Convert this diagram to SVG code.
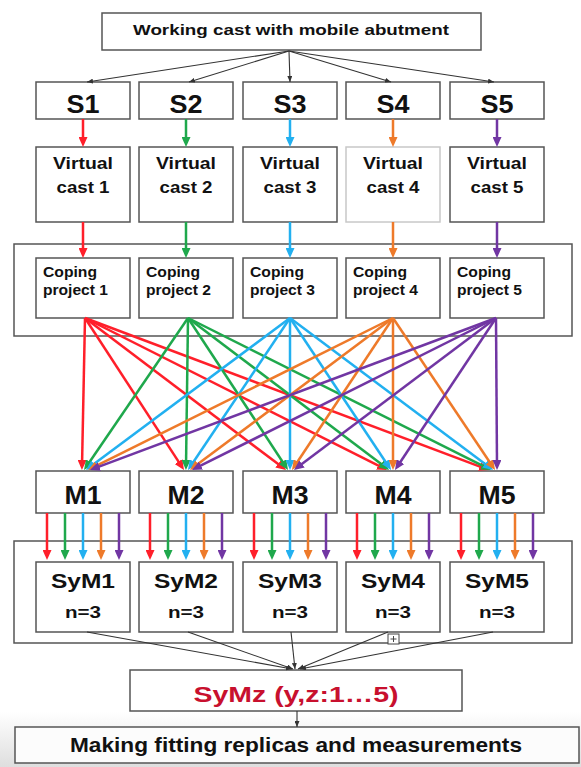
<svg xmlns="http://www.w3.org/2000/svg" width="581" height="767" viewBox="0 0 581 767">
<defs>
<linearGradient id="bg" x1="0" y1="0" x2="0" y2="1"><stop offset="0" stop-color="#ffffff"/><stop offset="1" stop-color="#dedede"/></linearGradient>
<marker id="mr" markerUnits="userSpaceOnUse" markerWidth="10" markerHeight="9" refX="6" refY="4.5" orient="auto"><path d="M0,0 L10,4.5 L0,9 Z" fill="#ff1f2a"/></marker>
<marker id="mg" markerUnits="userSpaceOnUse" markerWidth="10" markerHeight="9" refX="6" refY="4.5" orient="auto"><path d="M0,0 L10,4.5 L0,9 Z" fill="#1fa84c"/></marker>
<marker id="mb" markerUnits="userSpaceOnUse" markerWidth="10" markerHeight="9" refX="6" refY="4.5" orient="auto"><path d="M0,0 L10,4.5 L0,9 Z" fill="#22b0f0"/></marker>
<marker id="mo" markerUnits="userSpaceOnUse" markerWidth="10" markerHeight="9" refX="6" refY="4.5" orient="auto"><path d="M0,0 L10,4.5 L0,9 Z" fill="#ee7a2a"/></marker>
<marker id="mp" markerUnits="userSpaceOnUse" markerWidth="10" markerHeight="9" refX="6" refY="4.5" orient="auto"><path d="M0,0 L10,4.5 L0,9 Z" fill="#7136a3"/></marker>
<marker id="mk" markerUnits="userSpaceOnUse" markerWidth="6" markerHeight="5" refX="6" refY="2.5" orient="auto"><path d="M0,0 L6,2.5 L0,5 Z" fill="#333"/></marker>
</defs>
<style>
.box{fill:#fff;stroke:#555;stroke-width:1.5}
.cont{fill:none;stroke:#555;stroke-width:1.5}
.t{font-family:"Liberation Sans",Arial,sans-serif;font-weight:bold;fill:#111}
.c{text-anchor:middle}
.k{stroke:#333;stroke-width:1.1;fill:none;marker-end:url(#mk)}
.r{stroke:#ff1f2a;stroke-width:2.5;marker-end:url(#mr)}
.g{stroke:#1fa84c;stroke-width:2.5;marker-end:url(#mg)}
.b{stroke:#22b0f0;stroke-width:2.5;marker-end:url(#mb)}
.o{stroke:#ee7a2a;stroke-width:2.5;marker-end:url(#mo)}
.p{stroke:#7136a3;stroke-width:2.5;marker-end:url(#mp)}
</style>
<rect x="0" y="0" width="581" height="767" fill="#fff"/>
<rect x="0" y="712" width="581" height="55" fill="url(#bg)"/>

<g id="containers">
<rect class="cont" x="14" y="244" width="558" height="92"/>
<rect class="cont" x="14" y="541" width="558" height="102"/>
</g>

<g id="top"><rect class="box" x="102" y="13" width="379" height="37"/><text class="t c" x="291" y="34.5" font-size="15" textLength="316" lengthAdjust="spacingAndGlyphs">Working cast with mobile abutment</text></g>

<g id="S1"><rect class="box" x="36" y="82" width="94" height="37"/><text class="t c" x="83" y="113" font-size="25" textLength="33" lengthAdjust="spacingAndGlyphs">S1</text></g>
<g id="S2"><rect class="box" x="139" y="82" width="94" height="37"/><text class="t c" x="186" y="113" font-size="25" textLength="33" lengthAdjust="spacingAndGlyphs">S2</text></g>
<g id="S3"><rect class="box" x="243" y="82" width="94" height="37"/><text class="t c" x="290" y="113" font-size="25" textLength="33" lengthAdjust="spacingAndGlyphs">S3</text></g>
<g id="S4"><rect class="box" x="346" y="82" width="94" height="37"/><text class="t c" x="393" y="113" font-size="25" textLength="33" lengthAdjust="spacingAndGlyphs">S4</text></g>
<g id="S5"><rect class="box" x="450" y="82" width="94" height="37"/><text class="t c" x="497" y="113" font-size="25" textLength="33" lengthAdjust="spacingAndGlyphs">S5</text></g>

<g id="V1"><rect class="box" x="36" y="147" width="94" height="75"/><text class="t c" x="83" y="169" font-size="17" textLength="60" lengthAdjust="spacingAndGlyphs">Virtual</text><text class="t c" x="83" y="193" font-size="17" textLength="53" lengthAdjust="spacingAndGlyphs">cast 1</text></g>
<g id="V2"><rect class="box" x="139" y="147" width="94" height="75"/><text class="t c" x="186" y="169" font-size="17" textLength="60" lengthAdjust="spacingAndGlyphs">Virtual</text><text class="t c" x="186" y="193" font-size="17" textLength="53" lengthAdjust="spacingAndGlyphs">cast 2</text></g>
<g id="V3"><rect class="box" x="243" y="147" width="94" height="75"/><text class="t c" x="290" y="169" font-size="17" textLength="60" lengthAdjust="spacingAndGlyphs">Virtual</text><text class="t c" x="290" y="193" font-size="17" textLength="53" lengthAdjust="spacingAndGlyphs">cast 3</text></g>
<g id="V4"><rect x="346" y="147" width="94" height="75" fill="#fff" stroke="#c8c8c8" stroke-width="1.5"/><text class="t c" x="393" y="169" font-size="17" textLength="60" lengthAdjust="spacingAndGlyphs">Virtual</text><text class="t c" x="393" y="193" font-size="17" textLength="53" lengthAdjust="spacingAndGlyphs">cast 4</text></g>
<g id="V5"><rect class="box" x="450" y="147" width="94" height="75"/><text class="t c" x="497" y="169" font-size="17" textLength="60" lengthAdjust="spacingAndGlyphs">Virtual</text><text class="t c" x="497" y="193" font-size="17" textLength="53" lengthAdjust="spacingAndGlyphs">cast 5</text></g>

<g id="C1"><rect class="box" x="36" y="258" width="94" height="60"/><text class="t" x="43" y="277" font-size="15" textLength="54" lengthAdjust="spacingAndGlyphs">Coping</text><text class="t" x="43" y="295" font-size="15" textLength="65" lengthAdjust="spacingAndGlyphs">project 1</text></g>
<g id="C2"><rect class="box" x="139" y="258" width="94" height="60"/><text class="t" x="146" y="277" font-size="15" textLength="54" lengthAdjust="spacingAndGlyphs">Coping</text><text class="t" x="146" y="295" font-size="15" textLength="65" lengthAdjust="spacingAndGlyphs">project 2</text></g>
<g id="C3"><rect class="box" x="243" y="258" width="94" height="60"/><text class="t" x="250" y="277" font-size="15" textLength="54" lengthAdjust="spacingAndGlyphs">Coping</text><text class="t" x="250" y="295" font-size="15" textLength="65" lengthAdjust="spacingAndGlyphs">project 3</text></g>
<g id="C4"><rect class="box" x="346" y="258" width="94" height="60"/><text class="t" x="353" y="277" font-size="15" textLength="54" lengthAdjust="spacingAndGlyphs">Coping</text><text class="t" x="353" y="295" font-size="15" textLength="65" lengthAdjust="spacingAndGlyphs">project 4</text></g>
<g id="C5"><rect class="box" x="450" y="258" width="94" height="60"/><text class="t" x="457" y="277" font-size="15" textLength="54" lengthAdjust="spacingAndGlyphs">Coping</text><text class="t" x="457" y="295" font-size="15" textLength="65" lengthAdjust="spacingAndGlyphs">project 5</text></g>

<g id="M1"><rect class="box" x="36" y="471" width="94" height="42"/><text class="t c" x="83" y="504" font-size="25" textLength="37" lengthAdjust="spacingAndGlyphs">M1</text></g>
<g id="M2"><rect class="box" x="139" y="471" width="94" height="42"/><text class="t c" x="186" y="504" font-size="25" textLength="37" lengthAdjust="spacingAndGlyphs">M2</text></g>
<g id="M3"><rect class="box" x="243" y="471" width="94" height="42"/><text class="t c" x="290" y="504" font-size="25" textLength="37" lengthAdjust="spacingAndGlyphs">M3</text></g>
<g id="M4"><rect class="box" x="346" y="471" width="94" height="42"/><text class="t c" x="393" y="504" font-size="25" textLength="37" lengthAdjust="spacingAndGlyphs">M4</text></g>
<g id="M5"><rect class="box" x="450" y="471" width="94" height="42"/><text class="t c" x="497" y="504" font-size="25" textLength="37" lengthAdjust="spacingAndGlyphs">M5</text></g>

<g id="SyM1"><rect class="box" x="36" y="562" width="94" height="70"/><text class="t c" x="83" y="588" font-size="21" textLength="64" lengthAdjust="spacingAndGlyphs">SyM1</text><text class="t c" x="83" y="618" font-size="16" textLength="36" lengthAdjust="spacingAndGlyphs">n=3</text></g>
<g id="SyM2"><rect class="box" x="139" y="562" width="94" height="70"/><text class="t c" x="186" y="588" font-size="21" textLength="64" lengthAdjust="spacingAndGlyphs">SyM2</text><text class="t c" x="186" y="618" font-size="16" textLength="36" lengthAdjust="spacingAndGlyphs">n=3</text></g>
<g id="SyM3"><rect class="box" x="243" y="562" width="94" height="70"/><text class="t c" x="290" y="588" font-size="21" textLength="64" lengthAdjust="spacingAndGlyphs">SyM3</text><text class="t c" x="290" y="618" font-size="16" textLength="36" lengthAdjust="spacingAndGlyphs">n=3</text></g>
<g id="SyM4"><rect class="box" x="346" y="562" width="94" height="70"/><text class="t c" x="393" y="588" font-size="21" textLength="64" lengthAdjust="spacingAndGlyphs">SyM4</text><text class="t c" x="393" y="618" font-size="16" textLength="36" lengthAdjust="spacingAndGlyphs">n=3</text></g>
<g id="SyM5"><rect class="box" x="450" y="562" width="94" height="70"/><text class="t c" x="497" y="588" font-size="21" textLength="64" lengthAdjust="spacingAndGlyphs">SyM5</text><text class="t c" x="497" y="618" font-size="16" textLength="36" lengthAdjust="spacingAndGlyphs">n=3</text></g>

<g id="SyMz"><rect class="box" x="130" y="670" width="332" height="41"/><text class="t c" x="296" y="702" font-size="22" textLength="205" lengthAdjust="spacingAndGlyphs" style="fill:#c8102e">SyMz (y,z:1…5)</text></g>
<g id="final"><rect x="15" y="727" width="564" height="36" fill="#fcfcfc" stroke="#555" stroke-width="1.5"/><text class="t c" x="296" y="752" font-size="21" textLength="452" lengthAdjust="spacingAndGlyphs">Making fitting replicas and measurements</text></g>

<g id="connectors">
<line class="k" x1="289" y1="51" x2="87" y2="82"/>
<line class="k" x1="289" y1="51" x2="189" y2="82"/>
<line class="k" x1="289" y1="51" x2="290" y2="82"/>
<line class="k" x1="289" y1="51" x2="391" y2="82"/>
<line class="k" x1="289" y1="51" x2="494" y2="82"/>

<line class="r" x1="83" y1="119" x2="83" y2="143"/>
<line class="g" x1="186" y1="119" x2="186" y2="143"/>
<line class="b" x1="290" y1="119" x2="290" y2="143"/>
<line class="o" x1="393" y1="119" x2="393" y2="143"/>
<line class="p" x1="497" y1="119" x2="497" y2="143"/>

<line class="r" x1="83" y1="222" x2="83" y2="254"/>
<line class="g" x1="186" y1="222" x2="186" y2="254"/>
<line class="b" x1="290" y1="222" x2="290" y2="254"/>
<line class="o" x1="393" y1="222" x2="393" y2="254"/>
<line class="p" x1="497" y1="222" x2="497" y2="254"/>

<line class="r" x1="85" y1="318" x2="82" y2="466"/>
<line class="r" x1="85" y1="318" x2="181.8" y2="466.6"/>
<line class="r" x1="85" y1="318" x2="282.8" y2="467.6"/>
<line class="r" x1="85" y1="318" x2="383.4" y2="468.2"/>
<line class="r" x1="85" y1="318" x2="485.3" y2="468.6"/>
<line class="g" x1="188" y1="318" x2="86.3" y2="466.7"/>
<line class="g" x1="188" y1="318" x2="186" y2="466"/>
<line class="g" x1="188" y1="318" x2="285.8" y2="466.7"/>
<line class="g" x1="188" y1="318" x2="385.8" y2="467.6"/>
<line class="g" x1="188" y1="318" x2="487.4" y2="468.2"/>
<line class="b" x1="290" y1="318" x2="89.2" y2="467.6"/>
<line class="b" x1="290" y1="318" x2="190.2" y2="466.7"/>
<line class="b" x1="290" y1="318" x2="290" y2="466"/>
<line class="b" x1="290" y1="318" x2="388.8" y2="466.7"/>
<line class="b" x1="290" y1="318" x2="489.8" y2="467.6"/>
<line class="o" x1="393" y1="318" x2="91.6" y2="468.2"/>
<line class="o" x1="393" y1="318" x2="193.2" y2="467.6"/>
<line class="o" x1="393" y1="318" x2="294.2" y2="466.7"/>
<line class="o" x1="393" y1="318" x2="393" y2="466"/>
<line class="o" x1="393" y1="318" x2="492.8" y2="466.7"/>
<line class="p" x1="496" y1="318" x2="93.7" y2="468.6"/>
<line class="p" x1="496" y1="318" x2="195.6" y2="468.2"/>
<line class="p" x1="496" y1="318" x2="297.2" y2="467.6"/>
<line class="p" x1="496" y1="318" x2="397.2" y2="466.7"/>
<line class="p" x1="496" y1="318" x2="497" y2="466"/>

<line class="r" x1="47" y1="513" x2="47" y2="556"/>
<line class="g" x1="65" y1="513" x2="65" y2="556"/>
<line class="b" x1="83" y1="513" x2="83" y2="556"/>
<line class="o" x1="101" y1="513" x2="101" y2="556"/>
<line class="p" x1="119" y1="513" x2="119" y2="556"/>
<line class="r" x1="150" y1="513" x2="150" y2="556"/>
<line class="g" x1="168" y1="513" x2="168" y2="556"/>
<line class="b" x1="186" y1="513" x2="186" y2="556"/>
<line class="o" x1="204" y1="513" x2="204" y2="556"/>
<line class="p" x1="222" y1="513" x2="222" y2="556"/>
<line class="r" x1="254" y1="513" x2="254" y2="556"/>
<line class="g" x1="272" y1="513" x2="272" y2="556"/>
<line class="b" x1="290" y1="513" x2="290" y2="556"/>
<line class="o" x1="308" y1="513" x2="308" y2="556"/>
<line class="p" x1="326" y1="513" x2="326" y2="556"/>
<line class="r" x1="357" y1="513" x2="357" y2="556"/>
<line class="g" x1="375" y1="513" x2="375" y2="556"/>
<line class="b" x1="393" y1="513" x2="393" y2="556"/>
<line class="o" x1="411" y1="513" x2="411" y2="556"/>
<line class="p" x1="429" y1="513" x2="429" y2="556"/>
<line class="r" x1="461" y1="513" x2="461" y2="556"/>
<line class="g" x1="479" y1="513" x2="479" y2="556"/>
<line class="b" x1="497" y1="513" x2="497" y2="556"/>
<line class="o" x1="515" y1="513" x2="515" y2="556"/>
<line class="p" x1="533" y1="513" x2="533" y2="556"/>

<line class="k" x1="87" y1="632" x2="292" y2="669"/>
<line class="k" x1="188" y1="632" x2="293" y2="669"/>
<line class="k" x1="291" y1="632" x2="295" y2="669"/>
<line class="k" x1="388" y1="632" x2="298" y2="669"/>
<line class="k" x1="493" y1="632" x2="300" y2="669"/>
<line class="k" x1="297" y1="711" x2="297" y2="727"/>
<rect x="388" y="634" width="11" height="10" fill="#fff" stroke="#444" stroke-width="1"/>
<path d="M393.5,636 V642 M390.5,639 H396.5" stroke="#444" stroke-width="1"/>
</g>
</svg>
